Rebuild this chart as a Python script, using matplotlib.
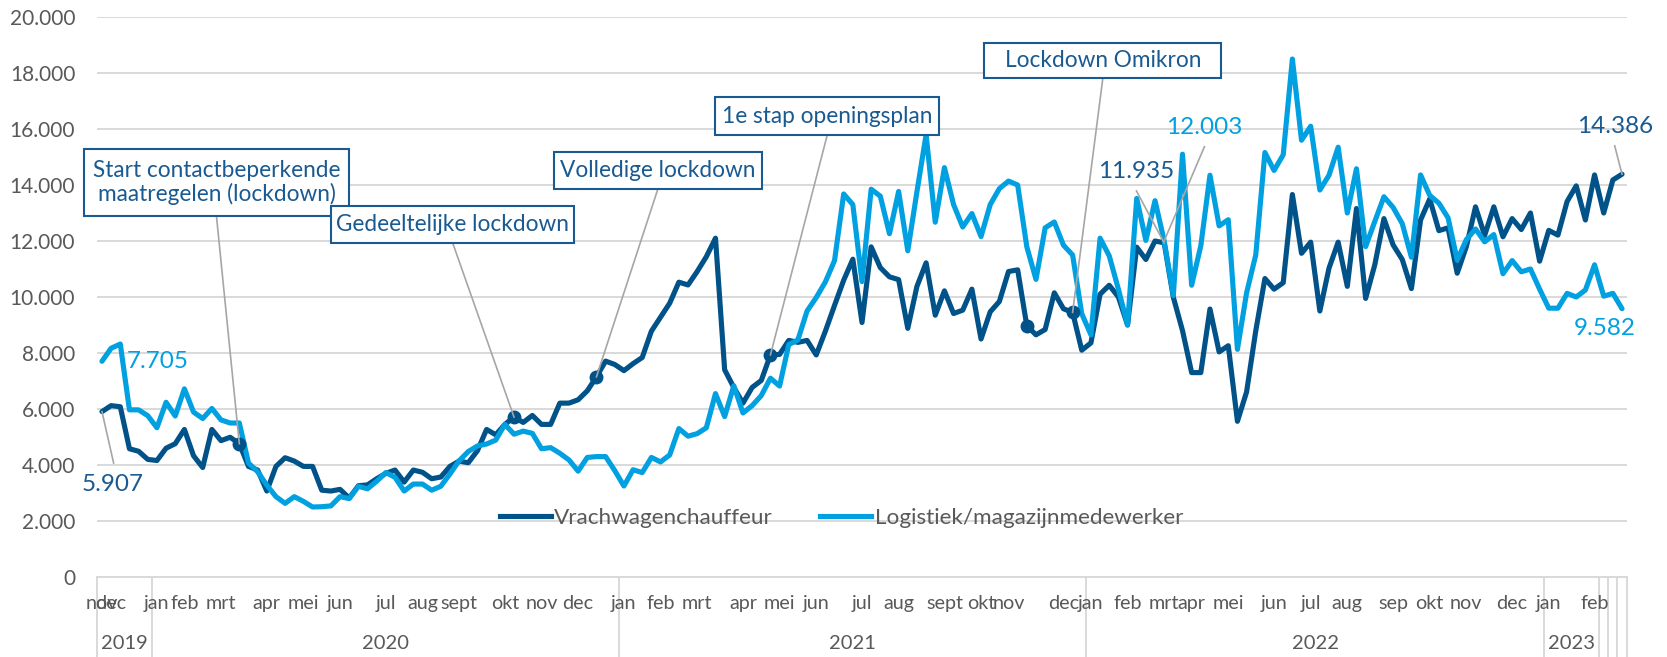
import matplotlib.pyplot as plt
from matplotlib.patches import Rectangle
from matplotlib.lines import Line2D
import matplotlib.transforms as mtransforms
import numpy as np

plt.rcParams['font.family'] = ['Lato', 'DejaVu Sans']

# weekly vacancies, nov 2019 - feb 2023
vracht = [5907, 6120, 6080, 4580, 4490, 4200, 4160, 4600, 4760, 5270,
          4330, 3910, 5270, 4870, 4990, 4760, 3950, 3820, 3070, 3950,
          4260, 4140, 3950, 3950, 3100, 3070, 3130, 2820, 3260, 3290,
          3510, 3700, 3820, 3390, 3820, 3740, 3510, 3570, 3950, 4140,
          4080, 4510, 5270, 5080, 5450, 5710, 5520, 5770, 5450, 5450,
          6210, 6210, 6330, 6650, 7150, 7710, 7590, 7370, 7620, 7840,
          8780, 9280, 9780, 10530, 10430, 10910, 11440, 12100, 7400, 6770,
          6210, 6770, 7020, 7930, 7950, 8450, 8380, 8450, 7930, 8780,
          9700, 10600, 11350, 9090, 11790, 11050, 10720, 10620, 8880, 10380,
          11220, 9350, 10220, 9410, 9530, 10280, 8500, 9470, 9840, 10910,
          10970, 8970, 8650, 8840, 10150, 9580, 9450, 8100, 8360, 10100,
          10420, 10000, 9000, 11780, 11340, 12000, 11935, 9990, 8800, 7300,
          7300, 9570, 8040, 8260, 5560, 6610, 8790, 10660, 10280, 10510,
          13660, 11560, 11960, 9500, 11030, 11960, 10380, 13160, 9950, 11150,
          12800, 11860, 11340, 10300, 12750, 13500, 12370, 12470, 10850, 11800,
          13220, 12200, 13220, 12150, 12800, 12410, 13000, 11280, 12380, 12210,
          13410, 13970, 12750, 14360, 13000, 14180, 14386]

logistiek = [7705, 8170, 8320, 5970, 5970, 5760, 5330, 6240, 5750, 6720,
             5890, 5660, 6020, 5610, 5500, 5500, 4070, 3760, 3280, 2870,
             2630, 2870, 2700, 2500, 2510, 2540, 2870, 2800, 3240, 3150,
             3420, 3730, 3560, 3070, 3320, 3320, 3100, 3240, 3680, 4150,
             4480, 4680, 4750, 4890, 5450, 5100, 5210, 5130, 4580, 4620,
             4420, 4180, 3780, 4270, 4300, 4300, 3800, 3250, 3830, 3730,
             4270, 4110, 4360, 5300, 5030, 5120, 5330, 6550, 5730, 6830,
             5860, 6120, 6480, 7100, 6820, 8300, 8470, 9500, 9980, 10540,
             11300, 13680, 13300, 10550, 13850, 13600, 12260, 13770, 11650, 13760,
             15800, 12670, 14620, 13300, 12500, 12980, 12160, 13300, 13870, 14140,
             14000, 11790, 10630, 12470, 12680, 11850, 11500, 9400, 8650, 12100,
             11470, 10280, 9000, 13520, 12020, 13440, 12003, 10050, 15100, 10420,
             11830, 14350, 12540, 12760, 8130, 10150, 11500, 15160, 14520, 15080,
             18500, 15600, 16100, 13820, 14350, 15350, 13000, 14580, 11800, 12700,
             13580, 13200, 12620, 11420, 14360, 13630, 13350, 12830, 11320, 12050,
             12430, 11970, 12230, 10830, 11300, 10900, 11000, 10280, 9600, 9600,
             10130, 10000, 10250, 11150, 10030, 10130, 9582]

# category axis: month label at the week where it appears, year groups
month_idx = [0, 1, 6, 9, 13, 18, 22, 26, 31, 35, 39, 44, 48, 52,
             57, 61, 65, 70, 74, 78, 83, 87, 92, 96, 99, 105,
             108, 112, 116, 119, 123, 128, 132, 136, 141, 145, 149, 154,
             158, 163]
month_names = ['nov', 'dec', 'jan', 'feb', 'mrt', 'apr', 'mei', 'jun', 'jul', 'aug', 'sept', 'okt', 'nov', 'dec',
               'jan', 'feb', 'mrt', 'apr', 'mei', 'jun', 'jul', 'aug', 'sept', 'okt', 'nov', 'dec',
               'jan', 'feb', 'mrt', 'apr', 'mei', 'jun', 'jul', 'aug', 'sep', 'okt', 'nov', 'dec',
               'jan', 'feb']
year_names = ['2019', '2020', '2021', '2022', '2023', '', '', '']
year_first = [0, 6, 57, 108, 158, 164, 165, 166]

# events (marked points on the Vrachwagenchauffeur line)
event_idx = [15, 45, 54, 73, 106]
event_text = ['Start contactbeperkende\nmaatregelen (lockdown)', 'Gedeeltelijke lockdown',
              'Volledige lockdown', '1e stap openingsplan', 'Lockdown Omikron']
extra_marker_idx = [101]

DARK = '#005288'
LIGHT = '#00A0E1'
BOXC = '#1A5A92'
GRAY = '#595959'
LEAD = '#A6A6A6'

fig = plt.figure(figsize=(16.67, 6.57), dpi=100)
ax = fig.add_axes([97.4 / 1667, 1 - 577 / 657, 1529.2 / 1667, 560 / 657])

n = len(vracht)
weeks = np.arange(n)
ax.set_xlim(-0.5, n - 0.5)
ax.set_ylim(0, 20000)

yt = np.arange(0, 20001, 2000)
ax.set_yticks(yt)
ax.set_yticklabels([f'{v:,}'.replace(',', '.') for v in yt], fontsize=15, color=GRAY)
ax.set_xticks([])
ax.tick_params(axis='y', length=0, pad=16)
for s in ax.spines.values():
    s.set_visible(False)
ax.grid(axis='y', color='#D9D9D9', lw=1.4)
ax.set_axisbelow(True)

ax.plot(weeks, vracht, color=DARK, lw=3.7, solid_joinstyle='round', solid_capstyle='round', zorder=3)
ax.plot(weeks, logistiek, color=LIGHT, lw=3.7, solid_joinstyle='round', solid_capstyle='round', zorder=4)
mk = event_idx + extra_marker_idx
ax.plot(mk, [vracht[i] for i in mk], 'o', color=DARK, ms=9, zorder=5)

# category axis below the plot
tr = mtransforms.blended_transform_factory(ax.transData, ax.transAxes)
ax.plot([-0.5, n - 0.5], [0, 0], color='#D9D9D9', lw=1.4, transform=tr, clip_on=False)
seps = [-0.5] + [f - 0.5 for f in year_first[1:]] + [n - 0.5]
for x in seps:
    ax.plot([x, x], [0, -0.15], color='#D9D9D9', lw=1.4, transform=tr, clip_on=False)
for i, m in zip(month_idx, month_names):
    ax.text(i, -0.048, m, transform=tr, ha='center', va='center', fontsize=14.2, color=GRAY)
bounds = year_first + [n]
for k, y in enumerate(year_names):
    if y:
        ax.text((bounds[k] + bounds[k + 1] - 1) / 2, -0.118, y, transform=tr,
                ha='center', va='center', fontsize=14.5, color=GRAY)

# event boxes: centre (week, value), width (weeks), height (value)
box_xy = [(12.5, 14090), (38.3, 12590), (60.7, 14520), (79.2, 16460), (109.3, 18430)]
box_wh = [(29.0, 2390), (26.6, 1320), (22.7, 1340), (24.4, 1360), (25.9, 1250)]
for (cx, cy), (w, h), i, t in zip(box_xy, box_wh, event_idx, event_text):
    ax.plot([cx, i], [cy - h / 2, vracht[i]], color=LEAD, lw=1.2, zorder=6)
    ax.add_patch(Rectangle((cx - w / 2, cy - h / 2), w, h, facecolor='white',
                           edgecolor=BOXC, lw=1.5, zorder=7, clip_on=False))
    ax.text(cx, cy, t, ha='center', va='center', fontsize=16.3, color=BOXC,
            linespacing=1.12, zorder=8)

# value labels
ax.text(2.67, 7680, '7.705', ha='left', va='center', fontsize=17.5, color=LIGHT, zorder=8)
ax.plot([0, 1.27], [vracht[0], 4070], color=LEAD, lw=1.2, zorder=6)
ax.text(1.15, 3290, '5.907', ha='center', va='center', fontsize=17.5, color=BOXC, zorder=8)
ax.plot([112.97, 116], [13790, vracht[116]], color=LEAD, lw=1.2, zorder=6)
ax.text(112.9, 14480, '11.935', ha='center', va='center', fontsize=17.5, color=BOXC, zorder=8)
ax.plot([120.4, 116], [15370, logistiek[116]], color=LEAD, lw=1.2, zorder=6)
ax.text(120.4, 16040, '12.003', ha='center', va='center', fontsize=17.5, color=LIGHT, zorder=8)
ax.plot([165.2, 166], [15400, vracht[166]], color=LEAD, lw=1.2, zorder=6, clip_on=False)
ax.text(165.2, 16090, '14.386', ha='center', va='center', fontsize=17.5, color=BOXC, zorder=8, clip_on=False)
ax.text(164.1, 8860, '9.582', ha='center', va='center', fontsize=17.5, color=LIGHT, zorder=8)

handles = [Line2D([], [], color=DARK, lw=3.7), Line2D([], [], color=LIGHT, lw=3.7)]
fig.legend(handles, ['Vrachwagenchauffeur', 'Logistiek/magazijnmedewerker'], loc='center',
           bbox_to_anchor=(841.5 / 1667, 1 - 518 / 657), ncol=2, frameon=False,
           handlelength=2.27, handletextpad=0.15, columnspacing=2.1, fontsize=16.2,
           labelcolor=GRAY)

fig.savefig('out.png', dpi=100)
